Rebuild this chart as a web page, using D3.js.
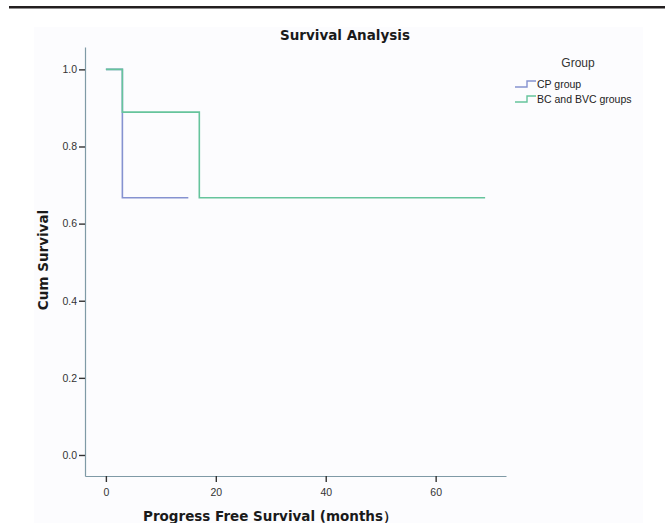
<!DOCTYPE html>
<html><head><meta charset="utf-8">
<script src="https://cdn.jsdelivr.net/npm/d3@7"></script>
<style>body{margin:0;background:#fff;}svg{display:block;font-family:Arial,"Liberation Sans",sans-serif;}</style>
</head><body>
<script>
// Data
const groups = ["CP group", "BC and BVC groups"];
const cpTimes = [0, 3, 3, 15];
const cpSurv = [1.0, 1.0, 0.667, 0.667];
const bcTimes = [0, 3, 3, 17, 17, 69];
const bcSurv = [1.0, 1.0, 0.889, 0.889, 0.667, 0.667];
const xTicks = [0, 20, 40, 60];
const yTicks = [0.0, 0.2, 0.4, 0.6, 0.8, 1.0];
const colors = ["#8592d0", "#66c49c"];

const W = 665, H = 523;
const svg = d3.select("body").append("svg").attr("width", W).attr("height", H);

// top rule
svg.append("rect").attr("x", 9).attr("y", 6).attr("width", W - 9).attr("height", 2.5).attr("fill", "#231f20");
// faint chart background
svg.append("rect").attr("x", 34).attr("y", 27).attr("width", 609).attr("height", H - 27).attr("fill", "#fcfcfe");

const x = d3.scaleLinear().domain([-3.8, 72.8]).range([85, 506]);
const y = d3.scaleLinear().domain([-0.0545, 1.058]).range([476, 47]);

const axCol = "#7f9aa6";
const gx = svg.append("g").attr("transform", "translate(0,476)")
  .call(d3.axisBottom(x).tickValues(xTicks).tickFormat(d3.format("d")).tickSize(6).tickSizeOuter(0));
const gy = svg.append("g").attr("transform", "translate(85,0)")
  .call(d3.axisLeft(y).tickValues(yTicks).tickFormat(d3.format(".1f")).tickSize(6).tickSizeOuter(0));
[gx, gy].forEach(g => {
  g.select(".domain").attr("stroke", axCol).attr("stroke-width", 1.2);
  g.selectAll(".tick line").attr("stroke", "#333").attr("stroke-width", 1.4);
  g.selectAll(".tick text").attr("fill", "#333").attr("font-size", 10.5).attr("font-family", "Arial, Liberation Sans, sans-serif");
});
gx.selectAll(".tick text").attr("dy", "1.0em");
gy.selectAll(".tick text").attr("dx", "1px");

// curves
const line = d3.line().x(d => x(d[0])).y(d => y(d[1]));
const cp = cpTimes.map((t, i) => [t, cpSurv[i]]);
const bc = bcTimes.map((t, i) => [t, bcSurv[i]]);
svg.append("path").attr("d", line(cp)).attr("fill", "none").attr("stroke", colors[0]).attr("stroke-width", 1.6);
svg.append("path").attr("d", line(bc)).attr("fill", "none").attr("stroke", colors[1]).attr("stroke-width", 1.6);

const boldFont = "DejaVu Sans, Verdana, sans-serif";
// title
svg.append("text").attr("x", 345).attr("y", 40).attr("text-anchor", "middle").attr("font-family", boldFont)
  .attr("font-weight", "bold").attr("font-size", 13.5).attr("fill", "#1a1a1a").text("Survival Analysis");
// axis labels
svg.append("text").attr("x", 270).attr("y", 521).attr("text-anchor", "middle").attr("font-family", boldFont)
  .attr("font-weight", "bold").attr("font-size", 13.5).attr("fill", "#1a1a1a").text("Progress Free Survival (months）");
svg.append("text").attr("transform", "translate(48,260) rotate(-90)").attr("text-anchor", "middle").attr("font-family", boldFont)
  .attr("font-weight", "bold").attr("font-size", 13.5).attr("fill", "#1a1a1a").text("Cum Survival");

// legend
svg.append("text").attr("x", 578).attr("y", 67).attr("text-anchor", "middle")
  .attr("font-size", 12).attr("fill", "#333").text("Group");
groups.forEach((g, i) => {
  const yy = 84 + i * 15;
  svg.append("path")
    .attr("d", `M515,${yy + 3}H527V${yy - 3}H536`)
    .attr("fill", "none").attr("stroke", colors[i]).attr("stroke-width", 1.4);
  svg.append("text").attr("x", 537).attr("y", yy + 4).attr("font-size", 10.5).attr("fill", "#222").text(g);
});
</script>
</body></html>
